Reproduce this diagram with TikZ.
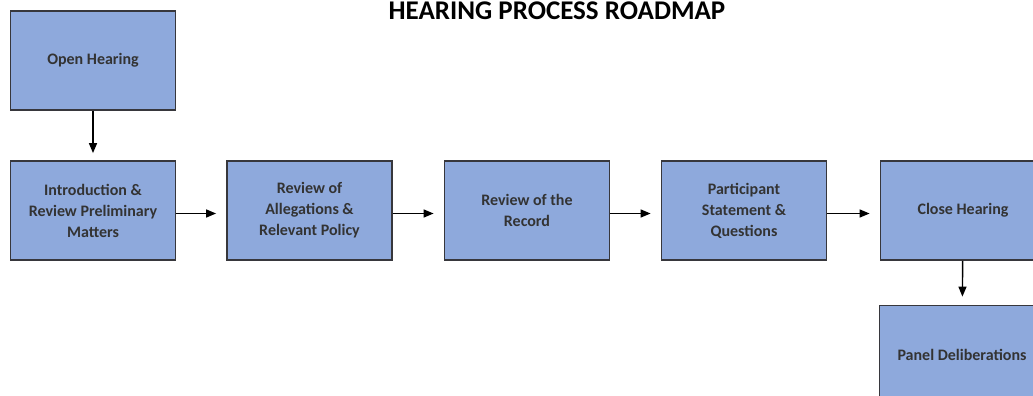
\documentclass[tikz,border=0pt]{standalone}
\usepackage{fontspec}
\setmainfont{Carlito}
\usetikzlibrary{arrows.meta}
\definecolor{boxblue}{RGB}{142,169,220}
\definecolor{boxline}{RGB}{55,55,60}
\tikzset{
  stepbox/.style={draw=boxline, line width=1.8pt, fill=boxblue, minimum width=165pt, minimum height=99pt,
    inner sep=0pt, align=center, text=black!80, font=\bfseries\fontsize{16}{21}\selectfont},
  flow/.style={line width=1.4pt, -{Triangle[length=10pt,width=8pt]}}
}
\begin{document}
\begin{tikzpicture}[x=1pt,y=-1pt]
			%%%%% START %%%%%
			
			\useasboundingbox (0,0) rectangle (1033,396);
			\clip (0,0) rectangle (1033,396);
			
			\node[font=\bfseries\fontsize{27}{32}\selectfont, anchor=base] (title) at (557,20) {HEARING PROCESS ROADMAP};
			
			\node[stepbox] (open) at (93,60.5) {Open Hearing};
			\node[stepbox] (intro) at (93,210.5) {Introduction \&\\Review Preliminary\\Matters};
			\node[stepbox] (alleg) at (309.5,210.5) {Review of\\Allegations \&\\Relevant Policy};
			\node[stepbox] (record) at (527,210.5) {Review of the\\Record};
			\node[stepbox] (part) at (744,210.5) {Participant\\Statement \&\\Questions};
			\node[stepbox] (close) at (963,210.5) {Close Hearing};
			\node[stepbox] (panel) at (962,355) {Panel Deliberations};
			
			\draw[flow, shorten >=7pt] (open) -- (intro);
			\draw[flow, shorten >=10pt] ([yshift=-3pt]intro.east) -- ([yshift=-3pt]alleg.west);
			\draw[flow, shorten >=10pt] ([yshift=-3pt]alleg.east) -- ([yshift=-3pt]record.west);
			\draw[flow, shorten >=10pt] ([yshift=-3pt]record.east) -- ([yshift=-3pt]part.west);
			\draw[flow, shorten >=10pt] ([yshift=-3pt]part.east) -- ([yshift=-3pt]close.west);
			\draw[flow, shorten >=8pt] (close) -- (panel);
			
			%%%%% END %%%%%
\end{tikzpicture}
\end{document}
